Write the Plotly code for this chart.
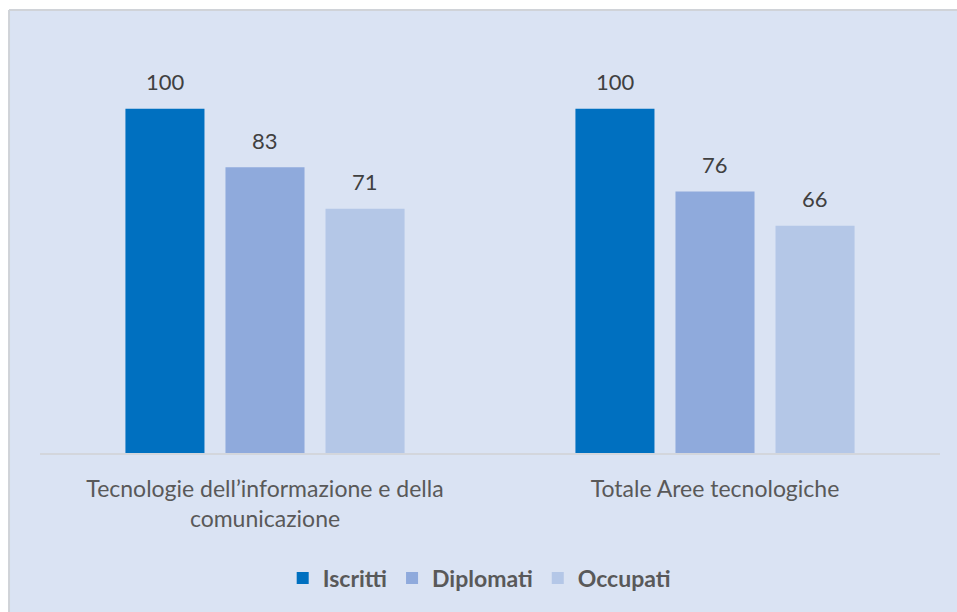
import plotly.graph_objects as go

categories = ["Tecnologie dell’informazione e della<br>comunicazione", "Totale Aree tecnologiche"]
series_names = ["Iscritti", "Diplomati", "Occupati"]
iscritti = [100, 100]
diplomati = [83, 76]
occupati = [71, 66]
series_values = [iscritti, diplomati, occupati]
colors = ["#0070C0", "#8FAADC", "#B4C7E7"]

FONT = "Lato"
fig = go.Figure()
for name, vals, col in zip(series_names, series_values, colors):
    fig.add_trace(go.Bar(name=name, x=categories, y=vals, marker=dict(color=col, line=dict(width=0))))

# value labels
offsets = [-100, 0, 100]
for vals, off in zip(series_values, offsets):
    for c, v in zip(categories, vals):
        fig.add_annotation(x=c, y=v, text=str(v), showarrow=False, xshift=off, yshift=27,
                           font=dict(family=FONT, size=22, color="#404040"))

bg = "#DAE3F3"
fig.update_layout(
    width=957, height=612,
    margin=dict(l=40, r=17, t=40, b=159),
    paper_bgcolor="white", plot_bgcolor="rgba(0,0,0,0)",
    barmode="group", bargap=0.333, bargroupgap=0.21,
    font=dict(family=FONT, color="#595959"),
    showlegend=True,
    legend=dict(orientation="h", x=0.488, xanchor="center", y=-0.303, yanchor="middle",
                font=dict(family=FONT, size=23, color="#595959", weight="bold"),
                bgcolor="rgba(0,0,0,0)", itemwidth=30, traceorder="normal"),
    xaxis=dict(showline=True, linecolor="#D3D6DC", linewidth=2, ticks="", showgrid=False,
               ticklabelstandoff=14,
               tickfont=dict(family=FONT, size=23, color="#595959"), fixedrange=True),
    yaxis=dict(range=[0, 120], visible=False, showgrid=False, fixedrange=True),
    shapes=[
        dict(type="rect", xref="paper", yref="paper", x0=-0.0344, x1=1.02, y0=-0.39, y1=1.0726,
             fillcolor=bg, line=dict(width=0), layer="below"),
        dict(type="line", xref="paper", yref="paper", x0=-0.0344, x1=-0.0344, y0=-0.39, y1=1.0726,
             line=dict(color="#D0D3D8", width=2), layer="below"),
        dict(type="line", xref="paper", yref="paper", x0=-0.0344, x1=1.02, y0=1.0726, y1=1.0726,
             line=dict(color="#D0D3D8", width=2), layer="below"),
    ],
)
fig.write_html("out.html", config={"displayModeBar": False},
               post_script="document.body.style.margin='0';document.body.style.overflow='hidden';")
